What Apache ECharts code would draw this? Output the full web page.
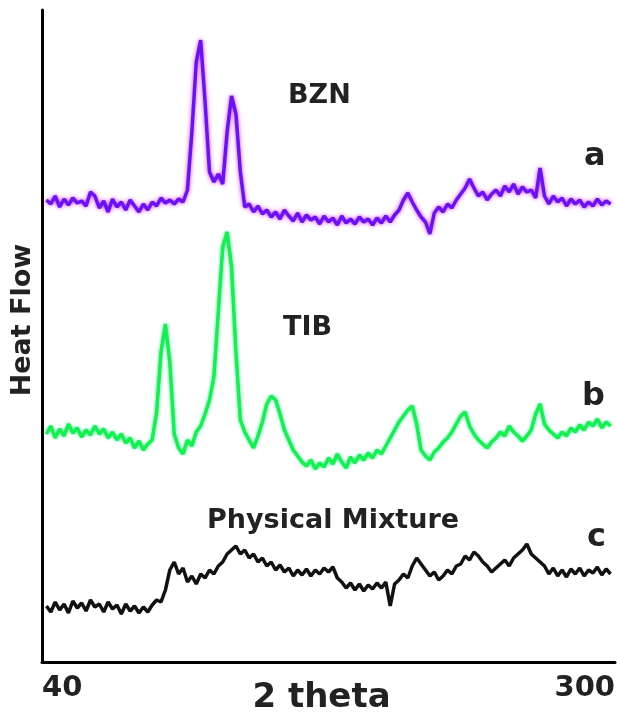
<!DOCTYPE html>
<html>
<head>
<meta charset="utf-8">
<script src="https://cdn.jsdelivr.net/npm/echarts@6/dist/echarts.min.js"></script>
<style>
  html, body { margin: 0; padding: 0; background: #fff; }
  #chart { width: 617px; height: 715px; }
</style>
</head>
<body>
<div id="chart"></div>
<script>
// x ticks shown on the axis
const xTicks = [40, 300];

// sampling positions in 2 theta (every 2 degrees)
const thetas = [];
for (let t = 42; t <= 298; t += 2) thetas.push(t);

// a - BZN (offset trace, arbitrary units)
const bzn = [
  462, 458, 466, 455, 463, 457, 464, 459, 461, 456,
  470, 466, 454, 461, 450, 463, 455, 460, 452, 462,
  456, 450, 458, 452, 460, 456, 464, 459, 462, 458,
  463, 460, 472, 530, 600, 622, 560, 490, 480, 488,
  478, 530, 566, 548, 490, 455, 458, 450, 456, 448,
  452, 445, 450, 443, 452, 446, 441, 449, 440, 447,
  442, 445, 438, 446, 440, 444, 437, 446, 439, 443,
  438, 445, 440, 443, 437, 444, 439, 446, 440, 447,
  452, 462, 469, 460, 452, 445, 440, 428, 449, 455,
  450, 458, 454, 462, 468, 474, 483, 474, 466, 470,
  462, 468, 472, 466, 476, 470, 478, 468, 475, 470,
  472, 464, 494, 466, 458, 466, 460, 464, 456, 463,
  458, 462, 455, 460, 456, 463, 457, 461, 458
];

// b - TIB
const tib = [
  228, 236, 224, 233, 226, 238, 229, 234, 225, 232,
  227, 236, 228, 233, 224, 230, 222, 228, 219, 224,
  214, 221, 212, 218, 222, 250, 310, 338, 300, 228,
  214, 208, 222, 216, 230, 236, 248, 262, 285, 350,
  415, 430, 395, 310, 242, 230, 222, 214, 226, 240,
  258, 266, 262, 248, 232, 222, 212, 206, 200, 196,
  202, 193, 199, 195, 204, 198, 208, 200, 194, 205,
  199, 207, 202, 209, 204, 212, 208, 216, 224, 232,
  240, 246, 252, 256, 238, 212, 206, 202, 210, 214,
  220, 224, 230, 238, 246, 250, 236, 228, 222, 218,
  214, 220, 224, 230, 226, 236, 230, 226, 221, 226,
  232, 248, 258, 238, 232, 228, 224, 230, 226, 234,
  230, 237, 232, 240, 236, 243, 234, 240, 236
];

// c - physical mixture
const mix = [
  56, 50, 60, 52, 58, 49, 61, 54, 59, 51,
  62, 55, 58, 50, 60, 53, 57, 48, 58, 51,
  56, 49, 55, 50, 57, 62, 60, 72, 92, 100,
  88, 94, 80, 86, 78, 88, 84, 92, 88, 96,
  100, 108, 112, 116, 108, 112, 104, 108, 100, 104,
  96, 100, 92, 97, 90, 94, 86, 92, 87, 93,
  86, 92, 88, 94, 90, 95, 84, 80, 74, 79,
  72, 78, 71, 77, 73, 79, 74, 80, 56, 78,
  82, 88, 84, 96, 104, 98, 92, 86, 90, 82,
  86, 92, 88, 96, 98, 106, 102, 110, 106, 100,
  96, 90, 94, 98, 102, 96, 104, 108, 112, 118,
  108, 104, 100, 96, 88, 94, 86, 92, 85, 93,
  88, 94, 86, 92, 89, 95, 87, 93, 88
];

const pairs = vals => thetas.map((t, i) => [t, vals[i]]);

const chart = echarts.init(document.getElementById('chart'));
const font = 'DejaVu Sans';
const txt = '#222';

const option = {
  animation: false,
  backgroundColor: '#fff',
  grid: { left: 42, right: 2, top: 10, bottom: 53, containLabel: false, outerBoundsMode: 'none' },
  xAxis: {
    type: 'value',
    min: 40,
    max: 300,
    name: '2 theta',
    nameLocation: 'middle',
    nameGap: 19,
    nameMoveOverlap: false,
    nameTextStyle: { fontFamily: font, fontWeight: 'bold', fontSize: 34, color: txt, padding: [0, 14, 0, 0] },
    axisLine: { lineStyle: { color: '#000', width: 3 } },
    axisTick: { show: false },
    splitLine: { show: false },
    axisLabel: {
      customValues: xTicks,
      alignMinLabel: 'left',
      alignMaxLabel: 'right',
      margin: 12,
      fontFamily: font, fontWeight: 'bold', fontSize: 29, color: txt
    }
  },
  yAxis: {
    type: 'value',
    min: 0,
    max: 652,
    name: 'Heat Flow',
    nameLocation: 'middle',
    nameGap: 6,
    nameMoveOverlap: false,
    nameTextStyle: { fontFamily: font, fontWeight: 'bold', fontSize: 27, color: txt, padding: [0, 0, 0, 32] },
    axisLine: { show: true, lineStyle: { color: '#000', width: 3 } },
    axisTick: { show: false },
    axisLabel: { show: false },
    splitLine: { show: false }
  },
  series: [
    {
      name: 'BZN', type: 'line', data: pairs(bzn), showSymbol: false,
      lineStyle: { color: '#6a12f5', width: 3.5, shadowColor: '#c83cff', shadowBlur: 4 }
    },
    {
      name: 'TIB', type: 'line', data: pairs(tib), showSymbol: false,
      lineStyle: { color: '#14f04c', width: 3.5, shadowColor: '#3cffa0', shadowBlur: 3 }
    },
    {
      name: 'Physical Mixture', type: 'line', data: pairs(mix), showSymbol: false,
      lineStyle: { color: '#111', width: 3.5 }
    }
  ],
  graphic: [
    { type: 'text', x: 288, y: 96, style: { text: 'BZN', font: 'bold 27px ' + font, fill: txt, verticalAlign: 'middle' } },
    { type: 'text', x: 283, y: 328, style: { text: 'TIB', font: 'bold 27px ' + font, fill: txt, verticalAlign: 'middle' } },
    { type: 'text', x: 207, y: 521, style: { text: 'Physical Mixture', font: 'bold 27px ' + font, fill: txt, verticalAlign: 'middle' } },
    { type: 'text', x: 584, y: 157, style: { text: 'a', font: 'bold 32px ' + font, fill: txt, verticalAlign: 'middle' } },
    { type: 'text', x: 582, y: 397, style: { text: 'b', font: 'bold 32px ' + font, fill: txt, verticalAlign: 'middle' } },
    { type: 'text', x: 587, y: 538, style: { text: 'c', font: 'bold 32px ' + font, fill: txt, verticalAlign: 'middle' } }
  ]
};

option && chart.setOption(option);
</script>
</body>
</html>
